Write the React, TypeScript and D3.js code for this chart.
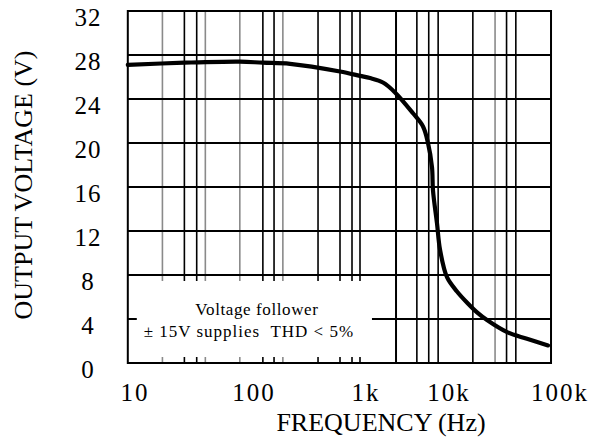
import React from "react";
import * as d3 from "d3";

// decade labels on the frequency axis
const decades = [10, 100, 1000, 10000, 100000];
const decadeLabels = ["10", "100", "1k", "10k", "100k"];
// frame limits of the (hand drawn) log axis
const freqMin = 8.7;
const freqMax = 83000;

// vertical grid lines (Hz)
const gridDark = [26, 33, 120, 151, 373, 586, 750, 884, 2300, 4100, 5700, 7400, 16400, 33000, 40000];
const gridGray = [17, 39, 76, 181, 26000];

const voltTicks = [0, 4, 8, 12, 16, 20, 24, 28, 32];

// output swing vs frequency
const freq = [8.7, 26, 76, 120, 210, 586, 884, 1117, 1600, 2236, 3684, 4863, 5584, 6240, 6413, 7166, 7795, 9460, 11800, 14500, 17900, 22000, 33400, 50400, 78000];
const volts = [27.1, 27.3, 27.4, 27.3, 27.2, 26.5, 26.1, 25.9, 25.5, 24.6, 22.7, 21.5, 20.0, 17.8, 15.7, 12.7, 10.3, 7.8, 6.5, 5.5, 4.6, 3.9, 2.8, 2.2, 1.6];

// note box sits in the lower left corner of the grid
const noteFreqMax = 2300;
const noteVoltMax = 8;
const noteGapEnd = 1180;
const noteLines = ["Voltage follower", "± 15V supplies  THD < 5%"];

const font = "'Liberation Serif', 'Times New Roman', serif";

export default function App() {
  const width = 591;
  const height = 441;

  const x = d3.scaleLog().domain(decades).range([135, 254, 366, 449, 560]);
  const y = d3.scaleLinear().domain([0, 32]).range([363, 11]);

  const left = x(freqMin);
  const right = x(freqMax);
  const top = y(32);
  const bottom = y(0);
  const noteRight = x(noteFreqMax);
  const noteTop = y(noteVoltMax);

  const line = d3
    .line<number>()
    .x((d, i) => x(freq[i]))
    .y((d) => y(d))
    .curve(d3.curveCatmullRom.alpha(0.5));

  const vLine = (f: number, color: string, w: number) => {
    const xx = x(f);
    if (f < noteFreqMax) {
      return (
        <g key={"v" + f}>
          <line x1={xx} x2={xx} y1={top} y2={noteTop + 6} stroke={color} strokeWidth={w} />
          <line x1={xx} x2={xx} y1={bottom - 6} y2={bottom} stroke={color} strokeWidth={w} />
        </g>
      );
    }
    return <line key={"v" + f} x1={xx} x2={xx} y1={top} y2={bottom} stroke={color} strokeWidth={w} />;
  };

  return (
    <svg width={width} height={height} style={{ position: "absolute", left: 0, top: 0, background: "#fff" }}>
      {gridGray.map((f) => vLine(f, "#8a8a8a", 1.6))}
      {gridDark.map((f) => vLine(f, "#000", f === noteFreqMax ? 2 : 1.6))}

      {voltTicks
        .filter((v) => v > 0 && v < 32)
        .map((v) =>
          v < noteVoltMax ? (
            <g key={"h" + v}>
              <line x1={left} x2={left + 9} y1={y(v)} y2={y(v)} stroke="#000" strokeWidth={2} />
              <line x1={x(noteGapEnd)} x2={right} y1={y(v)} y2={y(v)} stroke="#000" strokeWidth={2} />
            </g>
          ) : (
            <line key={"h" + v} x1={left} x2={right} y1={y(v)} y2={y(v)} stroke="#000" strokeWidth={2} />
          )
        )}

      <rect x={left} y={top} width={right - left} height={bottom - top} fill="none" stroke="#000" strokeWidth={2} />

      <path d={line(volts) || ""} fill="none" stroke="#000" strokeWidth={4.2} strokeLinecap="round" />

      <g fontFamily={font} fill="#000">
        {voltTicks.map((v) => (
          <text key={"yl" + v} x={88} y={y(v) + 6} textAnchor="middle" dominantBaseline="central" fontSize={25} letterSpacing={1}>
            {v}
          </text>
        ))}
        {decades.map((f, i) => (
          <text key={"xl" + f} x={x(f)} y={401} textAnchor="middle" fontSize={25} letterSpacing={2}>
            {decadeLabels[i]}
          </text>
        ))}
        <text x={(left + noteRight) / 2 - 5} y={315} textAnchor="middle" fontSize={17} letterSpacing={0.6}>
          {noteLines[0]}
        </text>
        <text x={(left + noteRight) / 2 - 13} y={337} textAnchor="middle" fontSize={17} letterSpacing={1} style={{ whiteSpace: "pre" }}>
          {noteLines[1]}
        </text>
        <text x={381} y={431} textAnchor="middle" fontSize={26}>
          FREQUENCY (Hz)
        </text>
        <text transform="translate(32,185) rotate(-90)" textAnchor="middle" fontSize={26}>
          OUTPUT VOLTAGE (V)
        </text>
      </g>
    </svg>
  );
}
